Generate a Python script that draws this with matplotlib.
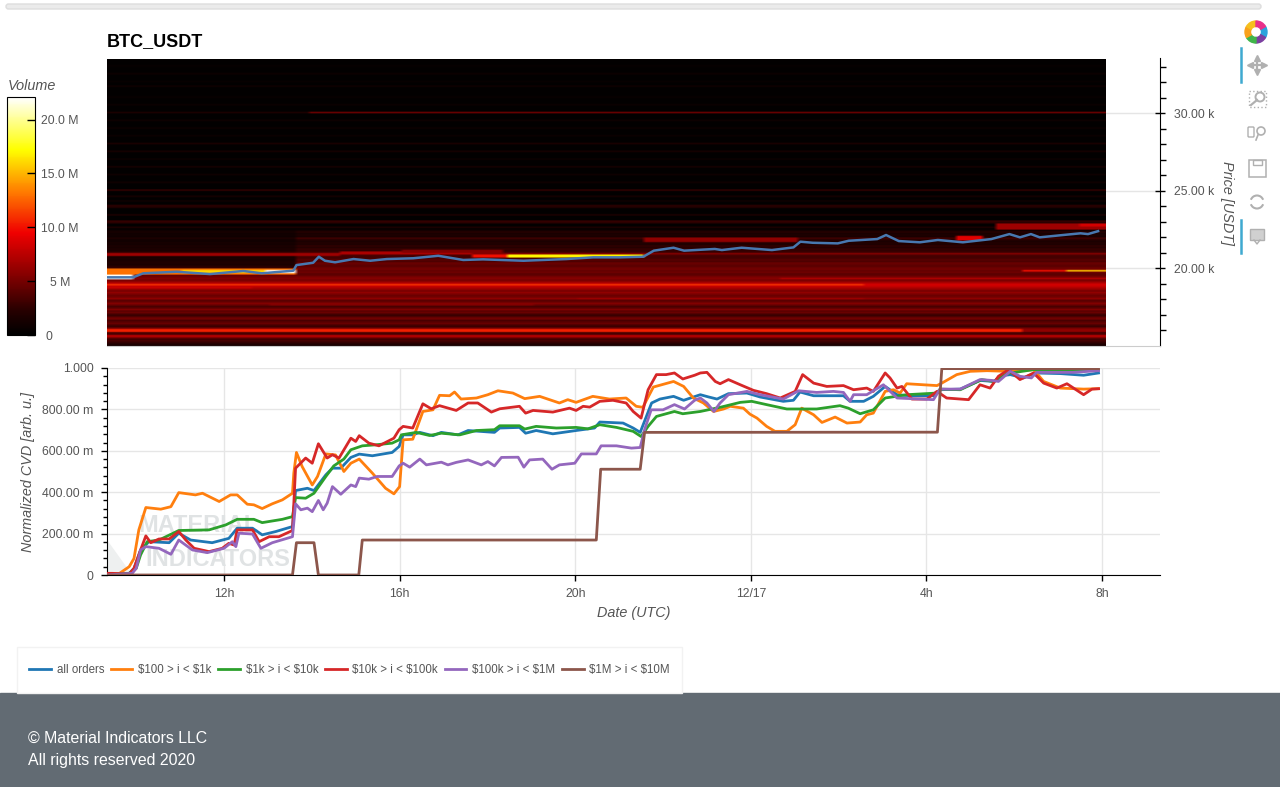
import matplotlib
matplotlib.use('Agg')
import matplotlib.pyplot as plt
import matplotlib.patches as mpatches
from matplotlib.colors import LinearSegmentedColormap
import numpy as np

plt.rcParams['font.family'] = ['Liberation Sans', 'DejaVu Sans']

# hours counted from 12/16 00:00 UTC
price_hours = [9.33, 9.93, 10.16, 10.92, 11.68, 12.44, 12.86, 13.58, 13.65, 14.03, 14.16, 14.3, 14.53, 14.95,
               15.33, 15.71, 16.31, 16.88, 17.45, 17.9, 18.82, 19.8, 20.41, 21.02, 21.55, 21.79, 22.24, 22.48,
               23.18, 23.34, 23.79, 24.48, 24.97, 25.13, 25.41, 25.98, 26.23, 26.88, 27.08, 27.37, 27.85, 28.26,
               28.83, 29.48, 29.89, 30.13, 30.38, 30.58, 31.11, 31.51, 31.68, 31.91]
price_k = [19.40, 19.40, 19.66, 19.76, 19.61, 19.81, 19.66, 19.83, 20.19, 20.34, 20.73, 20.47, 20.37, 20.58,
           20.47, 20.58, 20.63, 20.79, 20.52, 20.56, 20.47, 20.58, 20.69, 20.69, 20.73, 21.12, 21.31, 21.12,
           21.23, 21.16, 21.31, 21.16, 21.33, 21.70, 21.63, 21.59, 21.76, 21.87, 22.13, 21.74, 21.66, 21.81,
           21.66, 21.87, 22.19, 21.98, 22.19, 21.98, 22.13, 22.24, 22.19, 22.38]

# volume (millions) per 100 USDT row, 15.0k - 19.2k
volume_low = [1.5, 2.2, 2.8, 3.4, 3.0, 5.5, 8.0, 4.0, 3.0, 5.0, 10.0, 5.0, 3.0, 3.4, 4.5, 4.0, 3.4, 5.0, 4.4, 2.8,
              3.2, 4.6, 4.0, 5.4, 4.0, 3.4, 4.6, 5.6, 4.4, 4.0, 6.0, 5.0, 4.6, 5.2, 6.0, 5.0, 6.2, 7.0, 8.0, 9.0,
              7.5, 6.0, 5.0]
# rows 19.3k - 22.4k, before and after the 13:35 jump
volume_early = [5.5, 5.0, 4.6, 4.0, 4.6, 4.4, 4.8, 2.8, 2.2, 1.6, 1.9, 1.8, 1.4, 1.6, 1.3, 1.2, 6.0, 2.4, 1.6,
                1.8, 1.4, 1.7, 1.2, 1.4, 1.0, 1.1, 1.8, 0.9, 1.1, 1.0, 1.4, 0.9]
volume_late = [5.6, 5.2, 4.4, 4.0, 4.8, 4.4, 5.0, 4.6, 4.0, 4.4, 4.6, 3.6, 4.0, 3.4, 3.2, 3.6, 5.6, 3.0, 2.6,
               2.8, 2.2, 2.6, 1.8, 2.0, 1.6, 2.2, 3.2, 1.5, 1.8, 1.5, 2.3, 1.2]

# single dim levels higher up
top_levels = [22.6, 22.9, 23.0, 23.4, 23.9, 24.0, 24.3, 24.6, 25.0, 25.5, 26.0, 26.5, 27.0, 27.5, 28.0, 28.5, 29.0,
              29.5, 30.0, 30.5, 31.0, 31.7, 32.0, 32.5, 33.0]
top_volumes = [1.8, 2.4, 2.8, 1.8, 2.0, 2.4, 1.0, 1.3, 2.8, 1.0, 0.9, 1.4, 0.8, 1.3, 1.5, 0.7, 0.8, 0.9, 1.6, 0.7,
               0.6, 1.0, 0.5, 0.8, 0.5]

# time limited walls: price from, price to, hour from, hour to, volume
band_low = [29.95, 19.6, 19.3, 19.7, 19.7, 18.9, 18.7, 18.9, 15.9, 15.9, 20.8, 20.85, 21.0, 20.7, 20.7, 21.7,
            21.8, 22.45, 22.7, 19.8, 19.8, 19.3, 18.0, 17.6]
band_high = [30.05, 20.0, 19.6, 19.9, 19.9, 19.0, 18.85, 19.0, 16.05, 16.05, 20.95, 21.05, 21.2, 20.85, 20.85,
             22.0, 22.1, 22.9, 22.9, 19.9, 19.9, 19.4, 18.1, 17.7]
band_start = [13.9, 9.33, 9.33, 11.0, 12.9, 9.33, 9.33, 26.55, 9.33, 30.1, 9.33, 14.6, 16.0, 17.6, 18.4, 21.5,
              28.6, 29.5, 31.4, 30.1, 31.15, 24.6, 20.0, 13.0]
band_end = [32.07, 13.58, 9.95, 13.58, 13.58, 26.55, 12.6, 32.07, 30.1, 32.07, 14.6, 17.6, 18.3, 18.4, 21.55,
            25.0, 29.2, 32.07, 32.07, 31.15, 32.07, 32.07, 26.5, 19.0]
band_volume = [4.5, 13.0, 22.0, 16.0, 22.0, 11.0, 8.0, 8.5, 10.5, 6.0, 6.5, 7.0, 5.5, 10.0, 17.0, 6.0, 9.0, 6.5,
               8.5, 10.0, 15.5, 7.0, 6.5, 5.5]

# normalized CVD, one hour list and one value list for each order size
all_hours = [9.33, 9.84, 9.95, 10.1, 10.29, 10.75, 10.97, 11.24, 11.73, 12.11, 12.3, 12.65, 12.87, 13.18, 13.56,
             13.63, 13.9, 14.05, 14.32, 14.47, 14.66, 14.89, 15.08, 15.38, 15.83, 15.99, 16.08, 16.3, 16.46, 16.76,
             16.95, 17.33, 17.56, 18.16, 18.28, 18.73, 18.87, 19.11, 19.49, 20.02, 20.44, 20.56, 21.09, 21.32,
             21.48, 21.74, 21.93, 22.24, 22.47, 22.85, 23.04, 23.23, 23.49, 23.91, 24.21, 24.74, 24.97, 25.12,
             25.43, 26.11, 26.26, 26.57, 26.79, 27.06, 27.33, 27.63, 28.16, 28.31, 28.77, 29.22, 29.53, 29.72,
             29.91, 30.21, 30.48, 31.05, 31.58, 31.92]
all_orders = [0.0, 0.008, 0.032, 0.121, 0.161, 0.156, 0.202, 0.169, 0.156, 0.177, 0.226, 0.226, 0.194, 0.21, 0.234,
              0.408, 0.419, 0.408, 0.484, 0.516, 0.516, 0.568, 0.584, 0.576, 0.592, 0.621, 0.677, 0.677, 0.689,
              0.673, 0.689, 0.677, 0.698, 0.689, 0.71, 0.713, 0.685, 0.698, 0.682, 0.698, 0.71, 0.739, 0.734, 0.71,
              0.689, 0.831, 0.85, 0.863, 0.844, 0.871, 0.86, 0.85, 0.876, 0.879, 0.86, 0.839, 0.844, 0.884, 0.866,
              0.866, 0.839, 0.839, 0.863, 0.911, 0.871, 0.866, 0.866, 0.895, 0.898, 0.94, 0.935, 0.963, 0.968,
              0.952, 0.976, 0.973, 0.965, 0.976]

small_hours = [9.33, 9.62, 9.84, 9.95, 10.06, 10.22, 10.56, 10.79, 10.97, 11.35, 11.51, 11.89, 12.15, 12.3, 12.53,
               12.68, 12.87, 13.1, 13.33, 13.56, 13.59, 13.65, 13.78, 14.01, 14.13, 14.32, 14.54, 14.73, 14.89, 15.08,
               15.38, 15.68, 15.87, 16.0, 16.08, 16.3, 16.53, 16.76, 16.91, 17.14, 17.25, 17.4, 17.75, 18.01, 18.24,
               18.58, 18.85, 19.19, 19.64, 19.83, 20.02, 20.4, 20.78, 21.16, 21.39, 21.54, 21.78, 22.24, 22.47,
               22.69, 22.92, 23.15, 23.38, 23.53, 23.83, 23.98, 24.14, 24.36, 24.55, 24.82, 25.01, 25.16, 25.43,
               25.62, 25.92, 26.19, 26.49, 26.64, 26.79, 27.06, 27.25, 27.4, 27.55, 27.93, 28.24, 28.35, 28.69, 29.0,
               29.38, 29.83, 30.44, 30.67, 31.05, 31.58, 31.92]
small_orders = [0.0, 0.008, 0.04, 0.08, 0.218, 0.326, 0.318, 0.33, 0.398, 0.387, 0.395, 0.355, 0.387, 0.387, 0.342,
                0.339, 0.321, 0.344, 0.363, 0.395, 0.492, 0.592, 0.524, 0.435, 0.476, 0.585, 0.58, 0.5, 0.54, 0.56,
                0.492, 0.419, 0.392, 0.427, 0.653, 0.656, 0.79, 0.798, 0.868, 0.866, 0.884, 0.85, 0.855, 0.871, 0.89,
                0.879, 0.852, 0.863, 0.831, 0.847, 0.834, 0.863, 0.85, 0.855, 0.815, 0.81, 0.908, 0.935, 0.911, 0.855,
                0.831, 0.79, 0.802, 0.815, 0.806, 0.777, 0.758, 0.718, 0.694, 0.694, 0.726, 0.806, 0.774, 0.737,
                0.763, 0.734, 0.739, 0.774, 0.782, 0.887, 0.895, 0.879, 0.924, 0.919, 0.915, 0.927, 0.968, 0.984,
                0.987, 0.984, 0.992, 0.935, 0.903, 0.898, 0.9]

mid_hours = [9.33, 9.84, 10.0, 10.1, 10.25, 10.52, 10.97, 11.66, 12.04, 12.3, 12.68, 12.87, 13.33, 13.56, 13.63,
             13.86, 14.05, 14.32, 14.5, 14.73, 14.89, 15.15, 15.46, 15.83, 15.99, 16.04, 16.38, 16.68, 16.95, 17.37,
             17.75, 18.16, 18.28, 18.73, 18.85, 19.11, 19.57, 20.02, 20.29, 20.56, 20.94, 21.32, 21.5, 21.66, 21.85,
             22.26, 22.45, 22.85, 23.3, 23.76, 24.02, 24.36, 24.82, 25.5, 26.03, 26.22, 26.49, 26.79, 27.06, 27.55,
             28.24, 28.31, 28.77, 29.26, 29.53, 29.83, 30.44, 31.92]
mid_orders = [0.0, 0.008, 0.032, 0.097, 0.161, 0.169, 0.215, 0.218, 0.242, 0.269, 0.269, 0.253, 0.269, 0.282, 0.374,
              0.371, 0.395, 0.476, 0.527, 0.56, 0.605, 0.624, 0.629, 0.637, 0.653, 0.677, 0.689, 0.674, 0.685, 0.677,
              0.698, 0.702, 0.721, 0.721, 0.705, 0.718, 0.71, 0.713, 0.706, 0.726, 0.713, 0.694, 0.669, 0.718, 0.766,
              0.79, 0.779, 0.79, 0.81, 0.834, 0.839, 0.823, 0.802, 0.802, 0.818, 0.806, 0.779, 0.798, 0.855, 0.871,
              0.879, 0.898, 0.895, 0.944, 0.935, 0.973, 0.992, 0.989]

large_hours = [9.33, 9.46, 9.84, 9.95, 10.1, 10.22, 10.33, 10.52, 10.75, 10.97, 11.13, 11.32, 11.66, 11.96, 12.11,
               12.23, 12.3, 12.65, 12.8, 13.03, 13.25, 13.56, 13.63, 13.86, 14.01, 14.15, 14.35, 14.47, 14.62, 14.89,
               15.0, 15.08, 15.3, 15.53, 15.87, 15.99, 16.08, 16.3, 16.53, 16.72, 16.91, 17.29, 17.56, 17.78, 18.09,
               18.28, 18.73, 18.87, 19.04, 19.49, 19.87, 20.02, 20.18, 20.33, 20.56, 20.86, 21.16, 21.32, 21.5, 21.66,
               21.85, 22.07, 22.26, 22.45, 22.72, 22.85, 23.0, 23.19, 23.3, 23.49, 23.76, 24.06, 24.36, 24.67, 25.01,
               25.18, 25.43, 25.73, 26.11, 26.34, 26.64, 26.79, 27.06, 27.17, 27.33, 27.44, 27.67, 28.01, 28.24,
               28.46, 28.96, 29.22, 29.45, 29.64, 29.87, 30.13, 30.44, 30.67, 30.97, 31.2, 31.58, 31.77, 31.92]
large_orders = [0.008, 0.008, 0.004, 0.032, 0.121, 0.189, 0.156, 0.174, 0.174, 0.21, 0.169, 0.129, 0.113, 0.129, 0.153,
                0.145, 0.218, 0.218, 0.161, 0.185, 0.185, 0.215, 0.516, 0.565, 0.54, 0.634, 0.565, 0.581, 0.565, 0.661,
                0.645, 0.673, 0.637, 0.624, 0.661, 0.702, 0.718, 0.71, 0.827, 0.803, 0.818, 0.795, 0.831, 0.831, 0.787,
                0.803, 0.815, 0.782, 0.795, 0.787, 0.806, 0.795, 0.815, 0.811, 0.839, 0.844, 0.831, 0.79, 0.758, 0.895,
                0.968, 0.968, 0.976, 0.947, 0.965, 0.976, 0.979, 0.935, 0.924, 0.944, 0.919, 0.892, 0.876, 0.855, 0.887,
                0.968, 0.927, 0.911, 0.915, 0.895, 0.903, 0.887, 0.976, 0.952, 0.903, 0.911, 0.85, 0.85, 0.887, 0.855,
                0.847, 0.919, 0.903, 0.96, 0.992, 0.944, 0.976, 0.927, 0.903, 0.924, 0.871, 0.898, 0.9]

whale_hours = [9.33, 9.91, 10.0, 10.1, 10.22, 10.52, 10.79, 10.97, 11.28, 11.62, 12.0, 12.19, 12.27, 12.34, 12.65,
               12.84, 13.1, 13.56, 13.63, 13.75, 13.9, 14.01, 14.15, 14.26, 14.35, 14.47, 14.66, 14.89, 15.0, 15.08,
               15.3, 15.49, 15.83, 15.99, 16.08, 16.23, 16.46, 16.61, 16.95, 17.1, 17.29, 17.56, 17.86, 18.01, 18.16,
               18.32, 18.7, 18.83, 18.96, 19.26, 19.47, 19.64, 19.99, 20.14, 20.48, 20.59, 20.94, 21.28, 21.48, 21.58,
               21.73, 22.0, 22.26, 22.49, 22.72, 22.85, 23.0, 23.16, 23.3, 23.49, 23.91, 24.21, 24.74, 25.09, 25.5,
               25.88, 26.11, 26.26, 26.34, 26.64, 27.02, 27.33, 28.16, 28.31, 28.77, 29.22, 29.49, 29.64, 29.91, 30.13,
               30.39, 30.51, 31.34, 31.92]
whale_orders = [0.0, 0.008, 0.032, 0.121, 0.137, 0.129, 0.1, 0.169, 0.121, 0.108, 0.129, 0.161, 0.137, 0.202, 0.198,
                0.129, 0.156, 0.185, 0.344, 0.315, 0.323, 0.306, 0.36, 0.315, 0.347, 0.427, 0.39, 0.435, 0.427, 0.468,
                0.463, 0.476, 0.476, 0.527, 0.54, 0.521, 0.56, 0.532, 0.545, 0.532, 0.544, 0.556, 0.532, 0.548, 0.527,
                0.568, 0.569, 0.521, 0.556, 0.56, 0.511, 0.532, 0.54, 0.585, 0.585, 0.624, 0.624, 0.613, 0.616, 0.702,
                0.798, 0.798, 0.823, 0.802, 0.844, 0.855, 0.831, 0.79, 0.831, 0.871, 0.887, 0.871, 0.85, 0.89, 0.882,
                0.887, 0.882, 0.839, 0.871, 0.871, 0.919, 0.855, 0.847, 0.898, 0.898, 0.944, 0.94, 0.935, 0.984, 0.96,
                0.952, 0.979, 0.979, 0.987]

mega_hours = [9.33, 13.56, 13.65, 14.05, 14.15, 15.07, 15.15, 20.48, 20.58, 21.48, 21.58, 28.25, 28.35, 31.92]
mega_orders = [0.0, 0.0, 0.156, 0.156, 0.0, 0.0, 0.169, 0.169, 0.511, 0.511, 0.689, 0.69, 0.997, 0.997]

series_labels = ['all orders', r'\$100 > i < \$1k', r'\$1k > i < \$10k', r'\$10k > i < \$100k', r'\$100k > i < \$1M',
                 r'\$1M > i < \$10M']
series_colors = ['#1f77b4', '#ff7f0e', '#2ca02c', '#d62728', '#9467bd', '#8c564b']

date_ticks = [12, 16, 20, 24, 28, 32]
date_labels = ['12h', '16h', '20h', '12/17', '4h', '8h']
cvd_ticks = [0, 0.2, 0.4, 0.6, 0.8, 1.0]
cvd_labels = ['0', '200.00 m', '400.00 m', '600.00 m', '800.00 m', '1.000']
price_ticks = [20, 25, 30]
price_labels = ['20.00 k', '25.00 k', '30.00 k']
volume_ticks = [0, 5, 10, 15, 20]
volume_labels = ['0      ', '5 M', '10.0 M', '15.0 M', '20.0 M']

text_grey = '#555555'
W, H = 1280, 787


def rect(left, top, right, bottom):
    return [left / W, 1 - bottom / H, (right - left) / W, (bottom - top) / H]


fig = plt.figure(figsize=(W / 100, H / 100), dpi=100)

# page furniture lives on an axes in pixel coordinates
page = fig.add_axes([0, 0, 1, 1], zorder=0)
page.set_xlim(0, W)
page.set_ylim(H, 0)
page.axis('off')
page.add_patch(mpatches.Rectangle((0, 693), W, H - 693, color='#626b73'))
page.add_patch(mpatches.Rectangle((17, 647), 665, 46, fc='white', ec='#f2f2f2', lw=1))
page.add_patch(mpatches.FancyBboxPatch((6, 4), 1255, 5, boxstyle='round,pad=0,rounding_size=2.5', fc='#ebebeb',
                                       ec='#dddddd', lw=1))
page.text(28, 738, '\u00a9 Material Indicators LLC', color='white', fontsize=11.4, va='center')
page.text(28, 761, 'All rights reserved 2020', color='white', fontsize=11.4, va='center')
page.text(107, 42, 'BTC_USDT', color='black', fontsize=13, fontweight='bold', va='center')
page.text(8, 86, 'Volume', color=text_grey, fontsize=10.4, style='italic', va='center')
page.text(1227, 203, 'Price [USDT]', color=text_grey, fontsize=10.4, style='italic', rotation=270, ha='center',
          va='center')
page.text(28, 472, 'Normalized CVD [arb. u.]', color=text_grey, fontsize=10.4, style='italic', rotation=90,
          ha='center', va='center')
page.text(634, 613, 'Date (UTC)', color=text_grey, fontsize=10.4, style='italic', ha='center', va='center')

# toolbar
logo_colors = ['#2aa3dc', '#7b3fa0', '#3fb54a', '#f9a11b', '#f6c01d', '#e8308a']
for i, c in enumerate(logo_colors):
    page.add_patch(mpatches.Wedge((1256, 32), 11, i * 60 - 30, i * 60 + 30, width=5.5, color=c))
page.plot([1241, 1241], [48, 82], color='#3fa9d0', lw=1.8)
page.plot([1241, 1241], [220, 253], color='#3fa9d0', lw=1.8)
icon_grey = '#b0b0b0'
page.plot([1250, 1264], [65, 65], color=icon_grey, lw=1.6)
page.plot([1257, 1257], [58, 72], color=icon_grey, lw=1.6)
page.plot([1257], [58], marker='^', color=icon_grey, ms=4)
page.plot([1257], [72], marker='v', color=icon_grey, ms=4)
page.plot([1250], [65], marker='<', color=icon_grey, ms=4)
page.plot([1264], [65], marker='>', color=icon_grey, ms=4)
page.add_patch(mpatches.Rectangle((1249, 91), 17, 16, fill=False, ec=icon_grey, ls=':', lw=1))
page.add_patch(mpatches.Circle((1260, 97), 4.5, fill=True, fc='white', ec=icon_grey, lw=1.4))
page.plot([1251, 1257], [105, 100], color=icon_grey, lw=1.6)
page.add_patch(mpatches.Circle((1261, 131), 4, fill=False, ec=icon_grey, lw=1.2))
page.add_patch(mpatches.FancyBboxPatch((1249, 128), 4, 8, boxstyle='round,pad=1', fill=False, ec=icon_grey, lw=1))
page.plot([1258, 1256], [135, 140], color=icon_grey, lw=1.2)
page.add_patch(mpatches.Rectangle((1249, 160), 17, 17, fill=False, ec=icon_grey, lw=1.1))
page.add_patch(mpatches.Rectangle((1253, 160), 9, 5, fill=False, ec=icon_grey, lw=1))
page.add_patch(mpatches.Arc((1257, 202), 13, 13, theta1=20, theta2=160, ec=icon_grey, lw=1.5))
page.add_patch(mpatches.Arc((1257, 202), 13, 13, theta1=200, theta2=340, ec=icon_grey, lw=1.5))
page.add_patch(mpatches.Rectangle((1250, 229), 14, 11, fc='#d0d0d0', ec=icon_grey, lw=1))
page.plot([1254, 1257, 1260], [240, 244, 240], color=icon_grey, lw=1)

# heatmap grid
hour_edges = np.arange(9.33, 32.08, 0.1)
hour_mid = hour_edges[:-1] + 0.05
price_edges = np.arange(15.0, 33.6, 0.1)
price_mid = price_edges[:-1] + 0.05
volume = np.full((len(price_mid), len(hour_mid)), 0.25)

n_low = len(volume_low)
volume[:n_low, :] = np.array(volume_low)[:, None]
for r in range(len(volume_early)):
    volume[n_low + r, hour_mid < 13.6] = volume_early[r]
    volume[n_low + r, hour_mid >= 13.6] = volume_late[r]
for level, vol in zip(top_levels, top_volumes):
    volume[np.argmin(abs(price_mid - level)), :] = vol
for lo, hi, t0, t1, vol in zip(band_low, band_high, band_start, band_end, band_volume):
    rows = (price_mid >= lo) & (price_mid <= hi)
    cols = (hour_mid >= t0) & (hour_mid <= t1)
    volume[np.ix_(rows, cols)] = vol

volume_cmap = LinearSegmentedColormap.from_list('volume', [(0, '#000000'), (0.1, '#260000'), (0.23, '#780000'),
                                                           (0.43, '#f00000'), (0.6, '#ff7a00'), (0.78, '#ffff00'),
                                                           (1, '#ffffff')])

# top panel
ax1 = fig.add_axes(rect(107, 58, 1160, 346), zorder=2)
ax1.patch.set_alpha(0)
ax1.set_axisbelow(True)
im = ax1.imshow(volume, origin='lower', aspect='auto', cmap=volume_cmap, vmin=0, vmax=22.1, interpolation='bilinear',
                extent=[9.33, 32.07, price_edges[0], price_edges[-1]], zorder=1)
ax1.plot(price_hours, price_k, color='#4878b0', lw=1.8, zorder=3)
ax1.set_xlim(9.335, 33.32)
ax1.set_ylim(14.97, 33.55)
ax1.set_xticks([])
ax1.yaxis.tick_right()
ax1.set_yticks(price_ticks)
ax1.set_yticklabels(price_labels, color=text_grey, fontsize=8.8)
ax1.set_yticks(np.arange(16, 34, 1), minor=True)
ax1.tick_params(axis='y', which='major', direction='inout', length=6.5, width=1, pad=7)
ax1.tick_params(axis='y', which='minor', direction='out', length=4, width=1)
ax1.grid(True, axis='y', which='major', color='#e5e5e5', lw=1)
for s in ['top', 'left']:
    ax1.spines[s].set_visible(False)
ax1.spines['bottom'].set_color('#cccccc')

# colour bar
cax = fig.add_axes(rect(7, 97, 35, 335), zorder=2)
cb = fig.colorbar(im, cax=cax)
cb.set_ticks(volume_ticks)
cb.set_ticklabels(volume_labels)
cax.tick_params(direction='in', length=6, width=1, pad=18, labelsize=8.8, labelcolor=text_grey, color='black')
for label in cax.get_yticklabels():
    label.set_ha('center')

# bottom panel
ax2 = fig.add_axes(rect(107, 368, 1160, 575), zorder=2)
ax2.patch.set_alpha(0)
ax2.text(0.03, 0.24, 'MATERIAL', transform=ax2.transAxes, color='#e0e3e4', fontsize=17, fontweight='bold',
         va='center', zorder=1)
ax2.text(0.036, 0.077, 'INDICATORS', transform=ax2.transAxes, color='#e0e3e4', fontsize=17, fontweight='bold',
         va='center', zorder=1)
ax2.add_patch(mpatches.Polygon([(0.0, 0.17), (0.024, 0.0), (0.0, 0.0)], transform=ax2.transAxes, fc='#eef0f0',
                               ec='none', zorder=1))
hours_list = [all_hours, small_hours, mid_hours, large_hours, whale_hours, mega_hours]
cvd_list = [all_orders, small_orders, mid_orders, large_orders, whale_orders, mega_orders]
handles = []
for hours, cvd, label, color in zip(hours_list, cvd_list, series_labels, series_colors):
    line, = ax2.plot(hours, cvd, color=color, lw=2.0, label=label, zorder=3, solid_joinstyle='round')
    handles.append(line)
ax2.set_xlim(9.335, 33.32)
ax2.set_ylim(0, 1.0)
ax2.set_xticks(date_ticks)
ax2.set_xticklabels(date_labels, color=text_grey, fontsize=8.8)
ax2.set_yticks(cvd_ticks)
ax2.set_yticklabels(cvd_labels, color=text_grey, fontsize=8.8)
ax2.set_yticks(np.arange(0, 1.0, 0.04), minor=True)
ax2.tick_params(axis='both', which='major', direction='out', length=4.5, width=1, pad=5)
ax2.tick_params(axis='y', which='minor', direction='out', length=3, width=1)
ax2.grid(True, which='major', color='#e6e6e6', lw=1)
ax2.set_axisbelow(True)
ax2.spines['top'].set_visible(False)
ax2.spines['right'].set_visible(False)

legend = fig.legend(handles=handles, ncol=6, loc='center', bbox_to_anchor=(349.5 / W, 1 - 670 / H), fontsize=8.3,
                    handlelength=1.9, handletextpad=0.5, columnspacing=0.56, frameon=False, labelcolor=text_grey)

fig.savefig('out.png', dpi=100)
